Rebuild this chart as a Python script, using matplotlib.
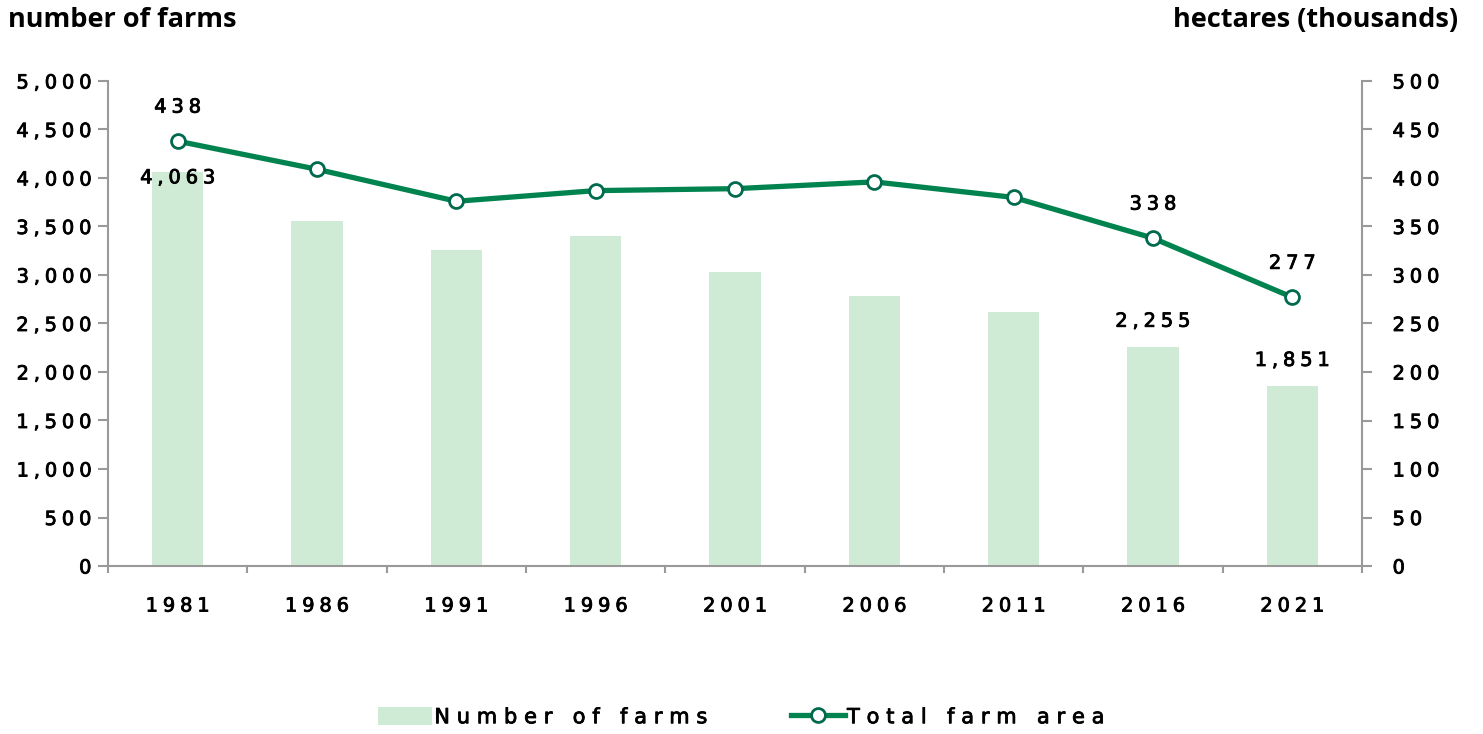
import matplotlib.pyplot as plt
import matplotlib.patheffects as pe
import numpy as np
from matplotlib.ticker import FuncFormatter, FixedLocator

years = ['1981', '1986', '1991', '1996', '2001', '2006', '2011', '2016', '2021']
farms = [4063, 3557, 3258, 3402, 3031, 2784, 2619, 2255, 1851]
area = [438, 409, 376, 387, 389, 396, 380, 338, 277]
labelled = [0, 7, 8]

plt.rcParams['font.family'] = ['DejaVu Sans']
SP = '\u2005'
thick = [pe.withStroke(linewidth=0.6, foreground='black')]


def spaced(s, sp=SP):
    return sp.join(s)


bar_col = '#d0ebd5'
line_col = '#00834f'
edge_col = '#006a4e'
axis_col = '#999999'

fig = plt.figure(figsize=(14.83, 7.34), dpi=100)
ax = fig.add_axes([108 / 1483, 1 - 566 / 734, 1254 / 1483, 485 / 734])
ax2 = ax.twinx()

x = np.arange(len(years))
bars = ax.bar(x, farms, width=0.37, color=bar_col, zorder=1)
ln, = ax2.plot(x, area, color=line_col, lw=3.8, marker='o', ms=10,
               mfc='white', mec=edge_col, mew=2, zorder=3)

ax.set_xlim(-0.5, len(years) - 0.5)
ax.set_ylim(0, 5000)
ax2.set_ylim(0, 500)
ax.set_yticks(np.arange(0, 5001, 500))
ax2.set_yticks(np.arange(0, 501, 50))
ax.yaxis.set_major_formatter(FuncFormatter(lambda v, p: spaced(f'{int(v):,}')))
ax2.yaxis.set_major_formatter(FuncFormatter(lambda v, p: spaced(f'{int(v):,}')))

ax.set_xticks(x)
ax.set_xticklabels([spaced(y) for y in years])
ax.xaxis.set_minor_locator(FixedLocator(np.arange(-0.5, len(years), 1)))
ax.tick_params(axis='x', which='major', length=0, pad=22, labelsize=14)
ax.tick_params(axis='x', which='minor', length=5, width=1.5, color=axis_col)
ax.tick_params(axis='y', length=7, width=1.5, color=axis_col, labelsize=14, pad=5)
ax2.tick_params(axis='y', length=7, width=1.5, color=axis_col, labelsize=14, pad=15)

for a in (ax, ax2):
    a.spines['top'].set_visible(False)
    for s in ('left', 'right', 'bottom'):
        a.spines[s].set_color(axis_col)
        a.spines[s].set_linewidth(1.5)
ax.spines['right'].set_visible(False)
ax2.spines['left'].set_visible(False)
ax2.spines['bottom'].set_visible(False)

ax2.set_zorder(2)
ax2.patch.set_visible(False)
ax.patch.set_visible(False)

for t in ax.get_xticklabels() + ax.get_yticklabels() + ax2.get_yticklabels():
    t.set_path_effects(thick)

# bar labels: first one sits on the bar top, the others float above
bar_off = {0: -6, 7: 26, 8: 26}
for i in labelled:
    ax.annotate(spaced(f'{farms[i]:,}'), (x[i], farms[i]), xytext=(0, bar_off[i] * 0.72),
                textcoords='offset points', ha='center', va='center', fontsize=14,
                path_effects=thick)
    ax2.annotate(spaced(f'{area[i]}'), (x[i], area[i]), xytext=(0, 34 * 0.72),
                 textcoords='offset points', ha='center', va='center', fontsize=14,
                 path_effects=thick)

fig.text(8 / 1483, 1 - 20 / 734, 'number of farms', fontsize=19.5, fontweight='bold',
         family='Open Sans', ha='left', va='center')
fig.text(1458 / 1483, 1 - 20 / 734, 'hectares (thousands)', fontsize=19.5,
         fontweight='bold', family='Open Sans', ha='right', va='center')

leg = fig.legend([bars, ln], [spaced('Number of farms', '\u2004'),
                              spaced('Total farm area', '\u2004')],
                 loc='center', bbox_to_anchor=(0.5, 1 - 717 / 734), ncol=2,
                 frameon=False, fontsize=15, handlelength=2.6, handleheight=1.0,
                 columnspacing=4.0, handletextpad=0.1)
for t in leg.get_texts():
    t.set_path_effects(thick)

fig.savefig('out.png', dpi=100)
